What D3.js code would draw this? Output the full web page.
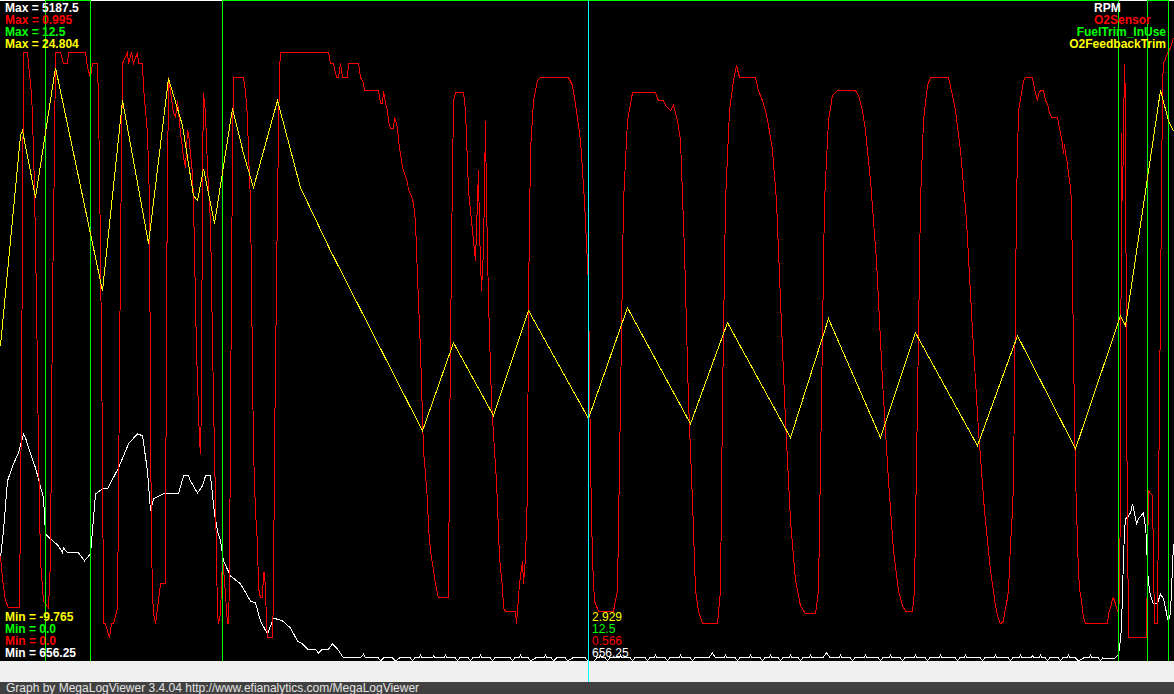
<!DOCTYPE html>
<html>
<head>
<meta charset="utf-8">
<script src="https://cdn.jsdelivr.net/npm/d3@7"></script>
<style>
html, body { margin: 0; padding: 0; background: #000; overflow: hidden; }
svg { display: block; }
text { font-family: "Liberation Sans", Arial, sans-serif; font-size: 12px; }
</style>
</head>
<body>
<svg id="graph"></svg>
<script>
// trace names, scale limits and cursor readout
const seriesNames = ["RPM", "O2Sensor", "FuelTrim_InUse", "O2FeedbackTrim"];
const seriesColors = ["#ffffff", "#ff0000", "#00ff00", "#ffff00"];
const scaleMin = [656.25, 0.0, 0.0, -9.765];
const scaleMax = [5187.5, 0.995, 12.5, 24.804];
const cursorRecord = 588;
const cursorValues = [656.25, 0.566, 12.5, 2.929];
const recordRange = [0, 1173];
const footerText = "Graph by MegaLogViewer 3.4.04 http://www.efianalytics.com/MegaLogViewer";

// [record, value] pairs
const rpmPoints = [
  [0,1363],[3,1549],[7,1892],[13,2009],[18,2084],[23,2215],[25,2187],[30,2077],[35,1981],[43,1775],
  [45,1528],[50,1494],[58,1446],[62,1398],[63,1432],[67,1398],[78,1398],[84,1343],[90,1391],[95,1803],
  [102,1837],[107,1837],[118,1981],[128,2146],[137,2215],[142,2201],[147,1960],[150,1686],[153,1768],[163,1803],
  [178,1803],[183,1926],[188,1926],[190,1892],[197,1809],[202,1857],[205,1926],[210,1926],[214,1665],[217,1549],
  [220,1480],[223,1343],[230,1240],[240,1185],[250,1068],[255,1054],[260,931],[267,841],[273,951],[282,931],
  [290,883],[297,793],[302,773],[307,738],[315,738],[318,711],[322,738],[328,738],[332,773],[337,738],
  [343,677],[360,677],[363,704],[365,677],[378,677],
  [380,656.25],[383,677],[392,677],[395,656.25],[399,677],[410,677],[412,656.25],[414,677],[419,677],[420,704],
  [421,677],[432,677],[433,690],[435,677],[444,677],[445,704],[446,677],[455,677],[457,656.25],[459,677],
  [468,677],[470,656.25],[472,677],[479,677],[480,704],[481,677],[490,677],[492,656.25],[494,677],[510,677],
  [512,656.25],[514,677],[519,677],[520,704],[521,677],[528,677],[530,656.25],[535,677],[544,677],[545,704],
  [546,677],[551,677],[553,656.25],[556,677],[565,677],[567,656.25],[572,677],[585,677],[587,656.25],[594,656.25],
  [596,677],[599,677],[600,704],[601,677],[605,677],[607,656.25],[609,677],[619,677],[620,704],[621,677],
  [630,677],[632,656.25],[634,677],[645,677],[647,656.25],[649,677],[654,677],[655,704],[656,677],[665,677],
  [667,656.25],[669,677],[679,677],[680,704],[681,677],[690,677],[692,656.25],[694,677],[708,677],[712,711],
  [715,677],[724,677],[725,704],[726,677],[735,677],[737,656.25],[739,677],[749,677],[750,704],[751,677],
  [760,677],[762,656.25],[764,677],[769,677],[770,704],[771,677],[778,677],[780,656.25],[782,677],[789,677],
  [790,704],[791,677],[798,677],[800,656.25],[802,677],[809,677],[810,704],[811,677],[822,677],[826,711],
  [830,677],[839,677],[840,704],[841,677],[850,677],[852,656.25],[854,677],[864,677],[865,704],[866,677],
  [878,677],[880,656.25],[882,677],[889,677],[890,704],[891,677],[900,677],[902,656.25],[904,677],[914,677],
  [915,704],[916,677],[925,677],[927,656.25],[929,677],[939,677],[940,704],[941,677],[955,677],[957,656.25],
  [959,677],[964,677],[965,704],[966,677],[980,677],[982,656.25],[984,677],[994,677],[995,704],[996,677],
  [1008,677],[1010,656.25],[1012,677],[1019,677],[1020,704],[1021,677],[1030,677],[1032,690],[1034,677],[1039,677],
  [1040,704],[1041,677],[1045,677],[1047,656.25],[1049,677],[1058,677],[1060,656.25],[1062,677],[1067,677],[1068,704],
  [1069,677],[1075,677],[1078,656.25],[1083,677],[1089,677],[1090,704],[1091,677],[1098,677],[1100,656.25],[1102,677],
  [1110,670],[1115,677],[1118,704],[1119,745],[1121,883],[1122,1137],[1123,1357],[1124,1549],[1125,1631],[1128,1652],
  [1130,1672],[1132,1734],[1134,1672],[1136,1597],[1138,1631],[1142,1665],[1143,1672],[1145,1569],[1146,1494],[1147,1274],
  [1149,1137],[1151,1082],[1153,1048],[1157,1054],[1160,1116],[1163,1082],[1165,1020],[1167,951],[1168,931],[1170,986],
  [1173,1460]
];

const o2Points = [
  [0,0.158],[2,0.124],[5,0.090],[8,0.080],[19,0.080],[21,0.392],[23,0.917],[27,0.917],[28,0.900],[31,0.855],
  [32,0.819],[34,0.713],[36,0.543],[38,0.317],[40,0.151],[43,0.090],[48,0.080],[50,0.151],[52,0.543],[54,0.769],
  [55,0.917],[60,0.917],[63,0.900],[67,0.900],[68,0.917],[85,0.917],[87,0.894],[90,0.879],[92,0.900],[97,0.900],
  [98,0.844],[100,0.618],[102,0.317],[103,0.056],[105,0.056],[107,0.045],[109,0.035],[111,0.056],[113,0.056],[117,0.080],
  [118,0.246],[120,0.618],[122,0.900],[127,0.917],[128,0.900],[131,0.917],[133,0.900],[137,0.917],[138,0.900],[142,0.900],
  [143,0.864],[145,0.829],[147,0.795],[149,0.693],[150,0.362],[151,0.181],[152,0.101],[153,0.071],[155,0.056],[157,0.080],
  [160,0.116],[165,0.116],[166,0.543],[168,0.879],[170,0.859],[173,0.825],[175,0.819],[177,0.844],[180,0.795],[182,0.773],
  [183,0.758],[185,0.743],[187,0.799],[188,0.795],[190,0.764],[192,0.734],[193,0.693],[196,0.467],[199,0.332],[200,0.312],
  [201,0.392],[202,0.739],[203,0.856],[205,0.825],[207,0.743],[208,0.713],[210,0.663],[213,0.392],[215,0.241],[217,0.071],
  [218,0.056],[220,0.071],[222,0.155],[224,0.121],[227,0.056],[228,0.056],[229,0.121],[230,0.362],[232,0.769],[233,0.879],
  [243,0.879],[245,0.859],[247,0.819],[248,0.764],[250,0.693],[253,0.317],[255,0.226],[257,0.176],[258,0.110],[260,0.095],
  [262,0.095],[263,0.133],[264,0.133],[265,0.106],[266,0.060],[267,0.035],[272,0.035],[273,0.101],[274,0.317],[277,0.693],
  [279,0.889],[280,0.917],[328,0.917],[330,0.900],[333,0.900],[336,0.879],[338,0.879],[340,0.900],[342,0.879],[347,0.879],
  [348,0.900],[358,0.900],[360,0.879],[363,0.871],[364,0.859],[378,0.859],[380,0.840],[382,0.840],[383,0.859],[385,0.840],
  [387,0.829],[388,0.814],[390,0.802],[393,0.802],[394,0.819],[397,0.804],[398,0.784],[400,0.764],[402,0.743],[404,0.734],
  [407,0.721],[408,0.709],[410,0.704],[413,0.690],[415,0.663],[416,0.618],[420,0.467],[423,0.317],[425,0.282],[427,0.241],
  [428,0.201],[430,0.166],[433,0.136],[435,0.116],[438,0.095],[448,0.095],[449,0.317],[451,0.618],[453,0.844],[455,0.856],
  [463,0.856],[465,0.829],[468,0.709],[472,0.648],[475,0.603],[477,0.693],[478,0.739],[479,0.648],[481,0.558],[483,0.618],
  [485,0.814],[486,0.693],[488,0.543],[491,0.392],[494,0.317],[496,0.271],[498,0.196],[499,0.155],[502,0.110],[503,0.080],
  [505,0.075],[515,0.075],[516,0.056],[517,0.075],[519,0.116],[522,0.151],[523,0.116],[525,0.155],[527,0.256],[528,0.543],
  [530,0.769],[533,0.844],[537,0.874],[540,0.879],[568,0.879],[572,0.867],[576,0.829],[580,0.784],[584,0.693],[588,0.566],
  [590,0.300],[592,0.151],[594,0.090],[598,0.075],[613,0.075],[617,0.106],[620,0.392],[623,0.693],[627,0.814],[632,0.856],
  [655,0.856],[658,0.844],[663,0.844],[665,0.837],[670,0.829],[673,0.837],[677,0.814],[680,0.784],[684,0.618],[688,0.392],
  [692,0.241],[695,0.106],[698,0.075],[702,0.056],[717,0.056],[720,0.106],[722,0.392],[725,0.693],[729,0.829],[733,0.874],
  [736,0.897],[739,0.879],[755,0.879],[758,0.859],[762,0.844],[765,0.829],[768,0.807],[772,0.769],[776,0.693],[780,0.543],
  [785,0.362],[790,0.211],[795,0.121],[800,0.083],[805,0.071],[815,0.071],[818,0.106],[821,0.392],[824,0.693],[828,0.814],
  [832,0.852],[837,0.859],[855,0.859],[858,0.852],[862,0.829],[865,0.799],[870,0.724],[876,0.603],[882,0.422],[888,0.271],
  [893,0.166],[898,0.106],[902,0.083],[905,0.075],[912,0.075],[914,0.106],[917,0.392],[920,0.693],[923,0.814],[927,0.867],
  [930,0.879],[948,0.879],[951,0.859],[955,0.829],[960,0.769],[966,0.663],[972,0.498],[978,0.347],[984,0.226],[990,0.136],
  [995,0.083],[998,0.063],[1000,0.056],[1003,0.060],[1004,0.072],[1006,0.086],[1008,0.106],[1010,0.176],[1012,0.226],[1013,0.271],
  [1015,0.543],[1016,0.693],[1018,0.829],[1021,0.855],[1023,0.874],[1025,0.879],[1032,0.879],[1033,0.870],[1035,0.855],[1037,0.844],
  [1038,0.855],[1040,0.859],[1043,0.859],[1045,0.844],[1047,0.840],[1049,0.825],[1051,0.819],[1057,0.819],[1058,0.810],[1060,0.795],
  [1062,0.779],[1063,0.764],[1064,0.779],[1065,0.764],[1067,0.749],[1068,0.734],[1070,0.713],[1071,0.693],[1073,0.467],[1075,0.271],
  [1076,0.237],[1077,0.176],[1078,0.136],[1079,0.109],[1081,0.090],[1082,0.078],[1083,0.065],[1085,0.056],[1107,0.056],[1108,0.071],
  [1110,0.080],[1112,0.093],[1113,0.095],[1115,0.086],[1117,0.075],[1118,0.075],[1119,0.095],[1120,0.271],[1121,0.795],[1122,0.693],
  [1123,0.795],[1124,0.900],[1125,0.844],[1126,0.392],[1128,0.036],[1146,0.036],[1147,0.151],[1148,0.256],[1152,0.249],[1153,0.151],
  [1154,0.056],[1157,0.056],[1158,0.241],[1160,0.543],[1161,0.693],[1162,0.870],[1163,0.900],[1167,0.915],[1170,0.924],[1173,0.939]
];

const fuelTrimPoints = [
  [0,0],[45,12.5],[90,0],[222,12.5],[1118,0],[1147,12.5],[1168,0],[1173,0]
];

const feedbackTrimPoints = [
  [0,6.73],[20,17.73],[22,17.99],[35,14.49],[55,21.29],[102,9.61],[122,19.57],[148,12.08],[168,20.72],[182,18.26],
  [193,14.59],[197,14.33],[203,16.00],[214,13.12],[232,19.15],[243,16.79],[253,15.01],[277,19.57],[300,15.01],[330,11.71],
  [422,2.28],[453,6.89],[493,3.07],[528,8.57],[588,2.929],[627,8.72],[690,2.65],[727,7.94],[790,1.92],[828,8.15],
  [880,1.92],[915,7.41],[977,1.50],[1017,7.26],[1075,1.34],[1120,8.30],[1125,7.78],[1160,20.09],[1168,18.52],[1173,17.99]
];

const seriesPoints = [rpmPoints, o2Points, fuelTrimPoints, feedbackTrimPoints];

const width = 1174, height = 694;
const plotBottom = 661, statusTop = 682;

const fmt = v => Number.isInteger(v) ? v.toFixed(1) : String(v);

const svg = d3.select("#graph")
    .attr("width", width)
    .attr("height", height);

svg.append("rect")
    .attr("width", width)
    .attr("height", plotBottom)
    .attr("fill", "#000");

// thin white frame line along the top
svg.append("line")
    .attr("x1", 0).attr("x2", width)
    .attr("y1", 0.5).attr("y2", 0.5)
    .attr("stroke", "#fff")
    .attr("shape-rendering", "crispEdges");

const x = d3.scaleLinear().domain(recordRange).range([0.5, 1173.5]);

const yScales = seriesNames.map((n, i) =>
    d3.scaleLinear().domain([scaleMin[i], scaleMax[i]]).range([plotBottom, 0.5]));

seriesPoints.forEach((pts, i) => {
    const line = d3.line()
        .x(d => x(d[0]))
        .y(d => yScales[i](d[1]))
        .curve(seriesNames[i] === "FuelTrim_InUse" ? d3.curveStepAfter : d3.curveLinear);
    svg.append("path")
        .datum(pts)
        .attr("d", line)
        .attr("fill", "none")
        .attr("stroke", seriesColors[i])
        .attr("stroke-width", 1)
        .attr("shape-rendering", "crispEdges");
});

// footer bands
svg.append("rect")
    .attr("y", plotBottom)
    .attr("width", width)
    .attr("height", statusTop - plotBottom)
    .attr("fill", "#f0f0f0");

svg.append("rect")
    .attr("y", statusTop)
    .attr("width", width)
    .attr("height", height - statusTop)
    .attr("fill", "#404040");

svg.append("text")
    .attr("x", 6)
    .attr("y", 692)
    .attr("fill", "#e4e4e4")
    .text(footerText);

// cursor
svg.append("line")
    .attr("x1", x(cursorRecord)).attr("x2", x(cursorRecord))
    .attr("y1", 0).attr("y2", statusTop)
    .attr("stroke", "#00ffff")
    .attr("stroke-width", 1)
    .attr("shape-rendering", "crispEdges");

// max labels, top left
seriesNames.forEach((n, i) => {
    svg.append("text")
        .attr("x", 5)
        .attr("y", 12 + i * 12)
        .attr("fill", seriesColors[i])
        .attr("font-weight", "bold")
        .text(`Max = ${fmt(scaleMax[i])}`);
});

// min labels and cursor values, bottom
seriesNames.forEach((n, i) => {
    const yy = 657 - i * 12;
    svg.append("text")
        .attr("x", 5)
        .attr("y", yy)
        .attr("fill", seriesColors[i])
        .attr("font-weight", "bold")
        .text(`Min = ${fmt(scaleMin[i])}`);
    svg.append("text")
        .attr("x", x(cursorRecord) + 3.5)
        .attr("y", yy)
        .attr("fill", seriesColors[i])
        .text(fmt(cursorValues[i]));
});

// trace names, top right
seriesNames.forEach((n, i) => {
    const t = svg.append("text")
        .attr("y", 12 + i * 12)
        .attr("fill", seriesColors[i])
        .attr("font-weight", "bold")
        .text(n);
    const len = t.node().getComputedTextLength();
    t.attr("x", Math.min(1094, 1166 - len));
});
</script>
</body>
</html>
